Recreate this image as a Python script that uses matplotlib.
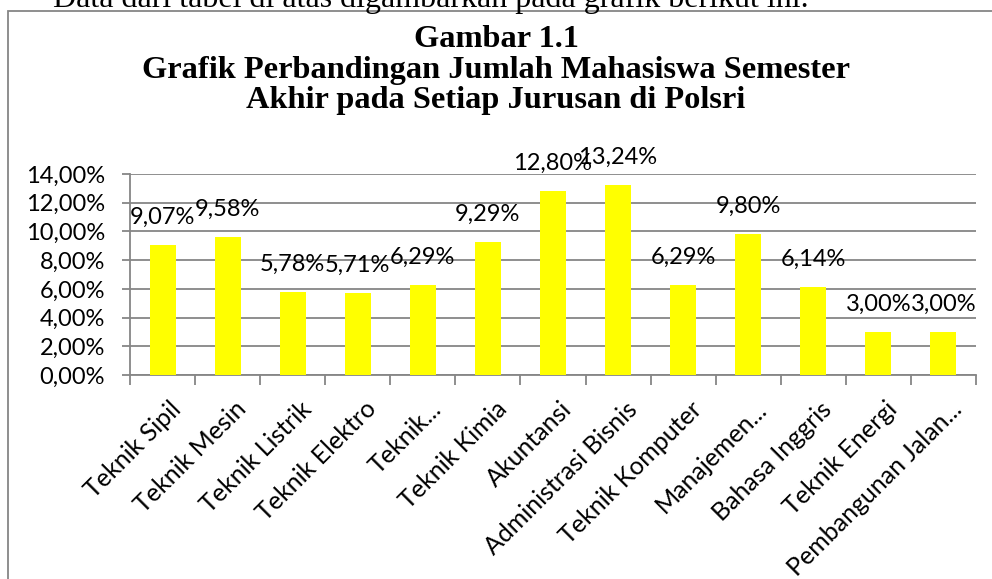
import numpy as np
import matplotlib.pyplot as plt
from matplotlib.patches import Rectangle

jurusan = ["Teknik Sipil", "Teknik Mesin", "Teknik Listrik", "Teknik Elektro",
           "Teknik...", "Teknik Kimia", "Akuntansi", "Administrasi Bisnis",
           "Teknik Komputer", "Manajemen...", "Bahasa Inggris", "Teknik Energi",
           "Pembangunan Jalan..."]
persen = [9.07, 9.58, 5.78, 5.71, 6.29, 9.29, 12.80, 13.24, 6.29, 9.80, 6.14, 3.00, 3.00]
yticks = [0, 2, 4, 6, 8, 10, 12, 14]
judul = ["Gambar 1.1",
         "Grafik Perbandingan Jumlah Mahasiswa Semester",
         "Akhir pada Setiap Jurusan di Polsri"]

def fmt(v):
    return ("%.2f%%" % v).replace(".", ",")

W, H = 992, 579
fig = plt.figure(figsize=(W / 100, H / 100), dpi=100)
grey = "#868686"
lab_font = "Lato"
fs = 17

# text of the page above the chart, cut by the crop
fig.text(53 / W, 1 - 7 / H, "Data dari tabel di atas digambarkan pada grafik berikut ini.",
         family="Liberation Serif", fontsize=23, va="baseline", ha="left")

# chart frame
fig.patches.append(Rectangle((8 / W, -0.1), 1.1, 1 - 11 / H + 0.1,
                             transform=fig.transFigure, fill=False,
                             edgecolor=grey, lw=1.3))

for yb, line in zip([47, 78, 108], judul):
    fig.text(496 / W, 1 - yb / H, line, family="Liberation Serif", weight="bold",
             fontsize=23.3, ha="center", va="baseline")

ax = fig.add_axes([130 / W, 1 - 375 / H, (976 - 130) / W, (375 - 174) / H])
x = np.arange(len(jurusan))
ax.bar(x, persen, width=0.4, color="#FFFF00", zorder=3)
ax.set_xlim(-0.5, len(jurusan) - 0.5)
ax.set_ylim(0, 14)
ax.set_yticks(yticks)
ax.set_yticklabels([fmt(v) for v in yticks], family=lab_font, fontsize=fs)
ax.yaxis.grid(True, color=grey, lw=1.3, zorder=0)
ax.set_xticks(np.arange(len(jurusan) + 1) - 0.5)
ax.set_xticklabels([])
ax.tick_params(axis="y", length=6, width=1.3, color=grey, pad=12)
ax.tick_params(axis="x", length=7, width=1.3, color=grey)
for s in ["top", "right"]:
    ax.spines[s].set_visible(False)
for s in ["left", "bottom"]:
    ax.spines[s].set_color(grey)
    ax.spines[s].set_linewidth(1.3)

for xi, name in zip(x, jurusan):
    ax.annotate(name, xy=(xi, 0), xytext=(5, -16), textcoords="offset points",
                rotation=45, rotation_mode="anchor", ha="right", va="top",
                family=lab_font, fontsize=18, annotation_clip=False)

for xi, v in zip(x, persen):
    ax.annotate(fmt(v), xy=(xi, v), xytext=(0, 20), textcoords="offset points",
                ha="center", va="center", family=lab_font, fontsize=fs,
                zorder=5)

fig.savefig("out.png", dpi=100)
